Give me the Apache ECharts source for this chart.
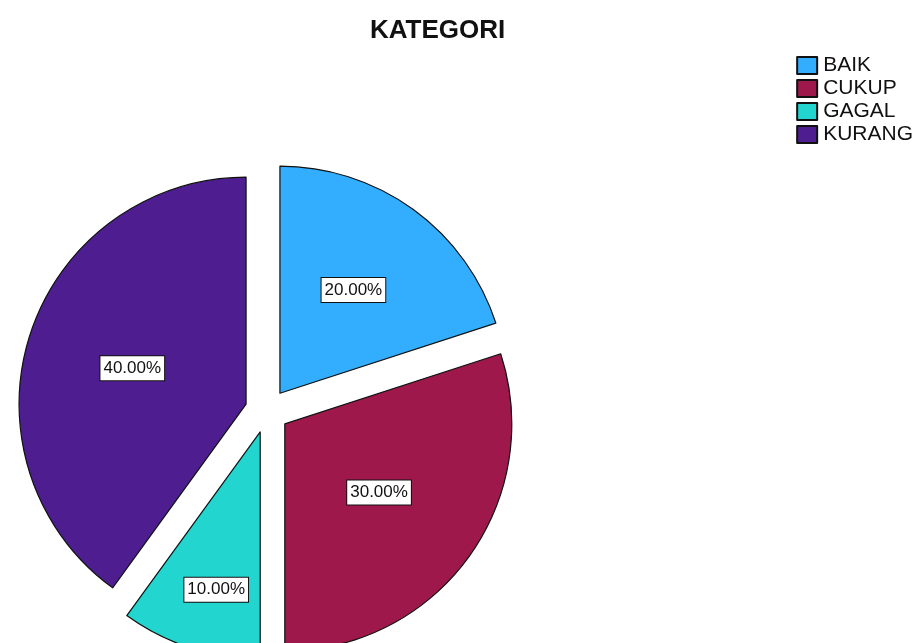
<!DOCTYPE html>
<html>
<head>
    <meta charset="UTF-8">
    <script src="https://cdn.jsdelivr.net/npm/echarts@6/dist/echarts.min.js"></script>
    <style>
        html, body { margin: 0; padding: 0; background: #fff; }
    </style>
</head>
<body>
    <!-- pie container -->
    <div id="main" style="width: 919px; height: 643px;"></div>

    <script>
        // data
        var categories = ['BAIK', 'CUKUP', 'GAGAL', 'KURANG'];
        var percents = [20, 30, 10, 40];
        var colors = ['#33aefe', '#9e184c', '#22d5cf', '#4e1e91'];

        var myChart = echarts.init(document.getElementById('main'));

        var pieData = [];
        for (var i = 0; i < categories.length; i++) {
            pieData.push({
                name: categories[i],
                value: percents[i],
                selected: true,
                itemStyle: { color: colors[i] }
            });
        }

        var option = {
            animation: false,
            textStyle: { fontFamily: 'Liberation Sans, Arial, sans-serif' },
            title: {
                text: 'KATEGORI',
                left: 365,
                top: 13,
                textStyle: {
                    fontSize: 26,
                    fontWeight: 'bold',
                    color: '#111'
                }
            },
            legend: {
                orient: 'vertical',
                right: 1,
                top: 50,
                icon: 'rect',
                itemWidth: 20,
                itemHeight: 17,
                itemGap: 2,
                selectedMode: false,
                textStyle: {
                    fontSize: 21,
                    color: '#111',
                    padding: [0, 0, 0, 1]
                },
                data: categories
            },
            series: [{
                type: 'pie',
                center: [267, 411],
                radius: 227,
                startAngle: 90,
                clockwise: true,
                selectedMode: 'multiple',
                selectedOffset: 22,
                avoidLabelOverlap: false,
                itemStyle: {
                    borderColor: '#111',
                    borderWidth: 1.2
                },
                emphasis: { disabled: true },
                label: {
                    show: true,
                    position: 'inside',
                    formatter: function (p) {
                        return p.percent.toFixed(2) + '%';
                    },
                    color: '#111',
                    fontSize: 17,
                    backgroundColor: '#fff',
                    borderColor: '#111',
                    borderWidth: 1,
                    padding: [4, 3, 3, 3]
                },
                labelLine: { show: false },
                labelLayout: function (p) {
                    // small slice: label sits further out
                    if (p.dataIndex === 2) return { dx: -8, dy: 47 };
                    if (p.dataIndex === 0) return { dx: 5, dy: -9 };
                    if (p.dataIndex === 3) return { dx: -3, dy: 0 };
                    return {};
                },
                data: pieData
            }]
        };

        myChart.setOption(option);
    </script>
</body>
</html>
